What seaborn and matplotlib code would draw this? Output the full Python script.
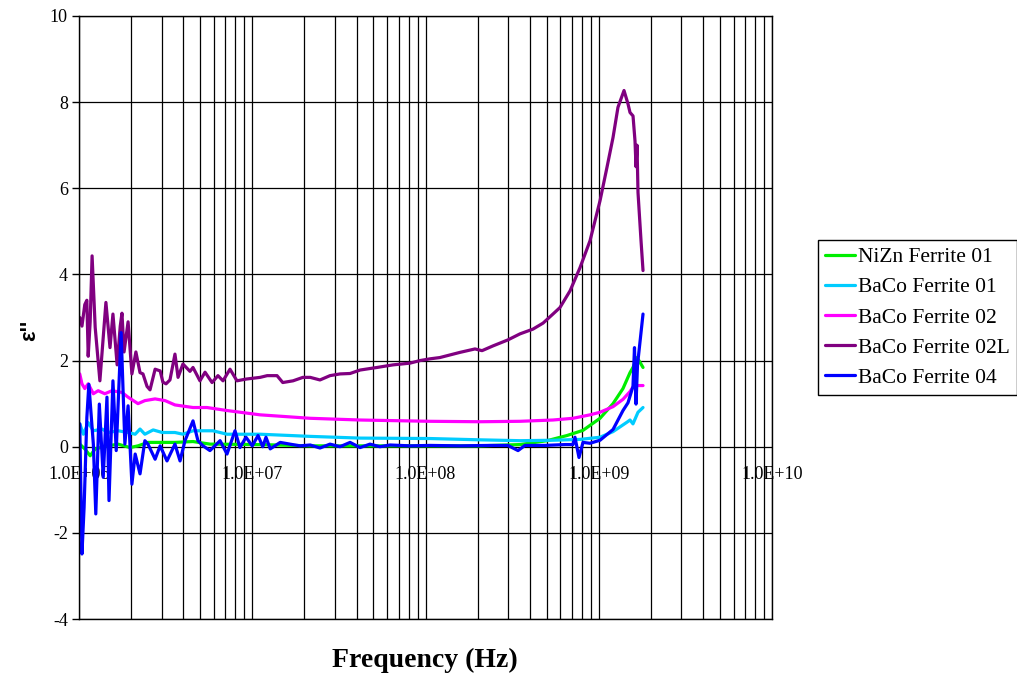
import matplotlib
matplotlib.use("Agg")
import matplotlib.pyplot as plt
from matplotlib.lines import Line2D
from matplotlib.ticker import LogLocator, NullFormatter, FixedLocator
import pandas as pd
import seaborn as sns

# ---- measured imaginary permittivity (frequency in MHz) ----
series_names = ["NiZn Ferrite 01", "BaCo Ferrite 01", "BaCo Ferrite 02",
                "BaCo Ferrite 02L", "BaCo Ferrite 04"]
series_colors = ["#00EE00", "#00CCFF", "#FF00FF", "#800080", "#0000FF"]

nizn01_mhz = [1.01, 1.08, 1.16, 1.24, 1.47, 1.68, 1.97, 2.19, 2.50, 3.58, 4.55,
              5.70, 11.1, 21.6, 41.9, 106, 206, 351, 503, 656, 811, 1017, 1209,
              1380, 1515, 1576, 1663, 1730, 1801]
nizn01_eps = [0.06, -0.05, -0.21, -0.05, 0.02, 0.06, -0.02, 0.02, 0.10, 0.10, 0.12,
              0.06, 0.05, 0.02, 0.02, 0.02, 0.02, 0.05, 0.14, 0.26, 0.38, 0.66, 1.00,
              1.35, 1.72, 1.84, 2.07, 1.96, 1.84]

baco01_mhz = [1.01, 1.06, 1.13, 1.21, 1.36, 1.47, 1.68, 1.92, 2.11, 2.25, 2.40,
              2.68, 3.02, 3.58, 3.98, 4.55, 5.93, 7.15, 11.1, 21.6, 41.9, 106, 206,
              351, 544, 780, 1017, 1209, 1456, 1515, 1576, 1685, 1801]
baco01_eps = [0.53, 0.29, 0.56, 0.37, 0.41, 0.33, 0.37, 0.33, 0.29, 0.41, 0.29,
              0.39, 0.33, 0.33, 0.29, 0.37, 0.37, 0.29, 0.29, 0.24, 0.20, 0.19, 0.16,
              0.14, 0.15, 0.17, 0.22, 0.35, 0.57, 0.62, 0.53, 0.80, 0.91]

baco02_mhz = [1.01, 1.04, 1.08, 1.13, 1.21, 1.29, 1.41, 1.55, 1.77, 1.92, 2.19,
              2.40, 2.75, 3.14, 3.58, 4.55, 5.48, 7.15, 11.1, 21.6, 41.9, 106, 206,
              351, 544, 710, 890, 1017, 1209, 1380, 1515, 1597, 1801]
baco02_eps = [1.69, 1.46, 1.35, 1.46, 1.23, 1.30, 1.23, 1.30, 1.26, 1.15, 1.00,
              1.07, 1.11, 1.07, 0.97, 0.91, 0.91, 0.84, 0.74, 0.66, 0.62, 0.59, 0.58,
              0.59, 0.62, 0.66, 0.74, 0.80, 0.93, 1.10, 1.28, 1.42, 1.42]

baco02l_mhz = [1.01, 1.04, 1.08, 1.11, 1.13, 1.16, 1.19, 1.24, 1.32, 1.38, 1.43,
               1.51, 1.57, 1.66, 1.73, 1.77, 1.82, 1.92, 2.02, 2.13, 2.25, 2.34,
               2.47, 2.57, 2.75, 2.94, 3.05, 3.18, 3.35, 3.58, 3.73, 3.98, 4.37,
               4.55, 4.99, 5.34, 5.86, 6.34, 6.78, 7.44, 8.16, 9.20, 11.1, 12.2,
               13.9, 15.0, 17.2, 19.6, 21.6, 24.6, 28.1, 32.1, 36.7, 41.9, 52.5,
               64.9, 81.3, 92.9, 106, 121, 158, 193, 212, 245, 299, 351, 417, 477,
               544, 597, 683, 780, 890, 1017, 1116, 1209, 1291, 1399, 1475, 1515,
               1577, 1619, 1641, 1663, 1685, 1754, 1801]
baco02l_eps = [3.00, 2.80, 3.30, 3.40, 2.10, 2.90, 4.43, 2.77, 1.53, 2.54, 3.35,
               2.30, 3.08, 1.90, 2.80, 3.10, 2.20, 2.90, 1.69, 2.20, 1.72, 1.69,
               1.40, 1.32, 1.80, 1.76, 1.50, 1.46, 1.55, 2.15, 1.61, 1.92, 1.75,
               1.84, 1.53, 1.73, 1.49, 1.65, 1.53, 1.80, 1.53, 1.57, 1.61, 1.65,
               1.65, 1.49, 1.53, 1.61, 1.61, 1.55, 1.65, 1.69, 1.70, 1.78, 1.84,
               1.90, 1.94, 2.00, 2.04, 2.07, 2.19, 2.27, 2.23, 2.34, 2.48, 2.62,
               2.73, 2.87, 3.08, 3.23, 3.62, 4.16, 4.78, 5.71, 6.49, 7.18, 7.88,
               8.27, 7.96, 7.76, 7.68, 7.10, 6.50, 7.00, 5.90, 4.78, 4.09]

baco04_mhz = [1.01, 1.04, 1.07, 1.11, 1.14, 1.21, 1.25, 1.31, 1.38, 1.45, 1.49,
              1.57, 1.64, 1.75, 1.84, 1.92, 2.02, 2.11, 2.25, 2.40, 2.50, 2.75,
              2.94, 3.22, 3.58, 3.83, 4.09, 4.55, 4.86, 5.20, 5.70, 6.52, 7.15,
              7.95, 8.49, 9.20, 10.0, 10.8, 11.5, 12.0, 12.7, 14.5, 16.5, 18.9,
              21.6, 24.6, 28.1, 32.1, 36.7, 41.9, 47.8, 54.6, 62.4, 81.3, 106, 158,
              236, 299, 342, 375, 489, 639, 710, 729, 769, 811, 890, 1017, 1209,
              1380, 1475, 1576, 1608, 1641, 1674, 1801]
baco04_eps = [0.53, -2.49, -1.41, 0.68, 1.45, 0.06, -1.56, 0.99, -0.71, 1.15, -1.25,
              1.53, -0.09, 2.65, 0.06, 0.95, -0.87, -0.17, -0.63, 0.14, 0.06, -0.29,
              0.02, -0.33, 0.06, -0.33, 0.14, 0.60, 0.14, 0.02, -0.09, 0.14, -0.17,
              0.37, -0.02, 0.22, 0.02, 0.26, 0.00, 0.22, -0.05, 0.10, 0.06, 0.02,
              0.04, -0.03, 0.06, 0.00, 0.10, -0.02, 0.06, 0.00, 0.04, 0.02, 0.03, 0.02,
              0.03, 0.03, -0.09, 0.03, 0.03, 0.05, 0.05, 0.22, -0.25, 0.10, 0.08, 0.15,
              0.40, 0.84, 1.02, 1.40, 2.30, 0.99, 1.90, 3.08]

y_ticks = [-4, -2, 0, 2, 4, 6, 8, 10]
x_decades = [1e6, 1e7, 1e8, 1e9, 1e10]
x_decade_labels = ["1.0E+06", "1.0E+07", "1.0E+08", "1.0E+09", "1.0E+10"]

# ---- long-form table ----
frames = []
for name, mhz, eps in zip(series_names,
                          [nizn01_mhz, baco01_mhz, baco02_mhz, baco02l_mhz, baco04_mhz],
                          [nizn01_eps, baco01_eps, baco02_eps, baco02l_eps, baco04_eps]):
    frames.append(pd.DataFrame({"freq": [m * 1e6 for m in mhz],
                                "eps": eps, "material": name}))
df = pd.concat(frames, ignore_index=True)

sns.set_theme(style="white")
plt.rcParams["font.family"] = ["Liberation Serif", "DejaVu Serif"]
plt.rcParams["text.color"] = "black"
plt.rcParams["axes.labelcolor"] = "black"
plt.rcParams["ytick.color"] = "black"

fig = plt.figure(figsize=(10.17, 6.76), dpi=100)
ax = fig.add_axes([79 / 1017, 1 - 619 / 676, (772 - 79) / 1017, (619 - 16) / 676])

palette = dict(zip(series_names, series_colors))
sns.lineplot(data=df, x="freq", y="eps", hue="material", hue_order=series_names,
             palette=palette, estimator=None, sort=False, linewidth=2.3,
             legend=False, ax=ax)

ax.set_xscale("log")
ax.set_xlim(1e6, 1e10)
ax.set_ylim(-4, 10)
ax.xaxis.set_major_locator(FixedLocator(x_decades))
ax.xaxis.set_minor_locator(LogLocator(base=10, subs=[2, 3, 4, 5, 6, 7, 8, 9], numticks=20))
ax.xaxis.set_minor_formatter(NullFormatter())
ax.set_yticks(y_ticks)
ax.set_yticklabels([str(v) for v in y_ticks])
ax.tick_params(axis="x", which="both", length=0, labelbottom=False)
ax.tick_params(axis="y", which="major", length=5, width=1, color="black",
               direction="out", left=True, pad=3, labelsize=13, labelcolor="black")
ax.grid(True, which="both", axis="x", color="black", linewidth=0.9)
ax.grid(True, which="major", axis="y", color="black", linewidth=0.9)
ax.set_axisbelow(True)
for sp in ax.spines.values():
    sp.set_color("black")
    sp.set_linewidth(1.0)
ax.set_xlabel("")
ax.set_ylabel("")

# decade labels sitting just under the zero line
for f, lab in zip(x_decades, x_decade_labels):
    ax.annotate(lab, xy=(f, 0), xytext=(0, -14), textcoords="offset points",
                ha="center", va="top", fontsize=13, color="black",
                zorder=0.1, annotation_clip=False)

fig.text(425 / 1017, 1 - 660 / 676, "Frequency (Hz)", ha="center", va="center",
         fontsize=20, fontweight="bold", color="black")
fig.text(30 / 1017, 1 - 330 / 676, "ε''", rotation=90, ha="center", va="center",
         fontsize=16, fontweight="bold", color="black",
         family=["Liberation Sans", "DejaVu Sans"])

handles = [Line2D([], [], color=c, linewidth=2.3) for c in series_colors]
leg = fig.legend(handles, series_names, loc="upper left",
                 bbox_to_anchor=(818 / 1017, 1 - 240 / 676), frameon=True,
                 fancybox=False, edgecolor="black", framealpha=1, fontsize=15.5,
                 handlelength=1.4, handletextpad=0.15, borderpad=0.33,
                 labelspacing=0.47, borderaxespad=0, labelcolor="black")
leg.get_frame().set_linewidth(1.0)

fig.savefig("out.png", dpi=100)
